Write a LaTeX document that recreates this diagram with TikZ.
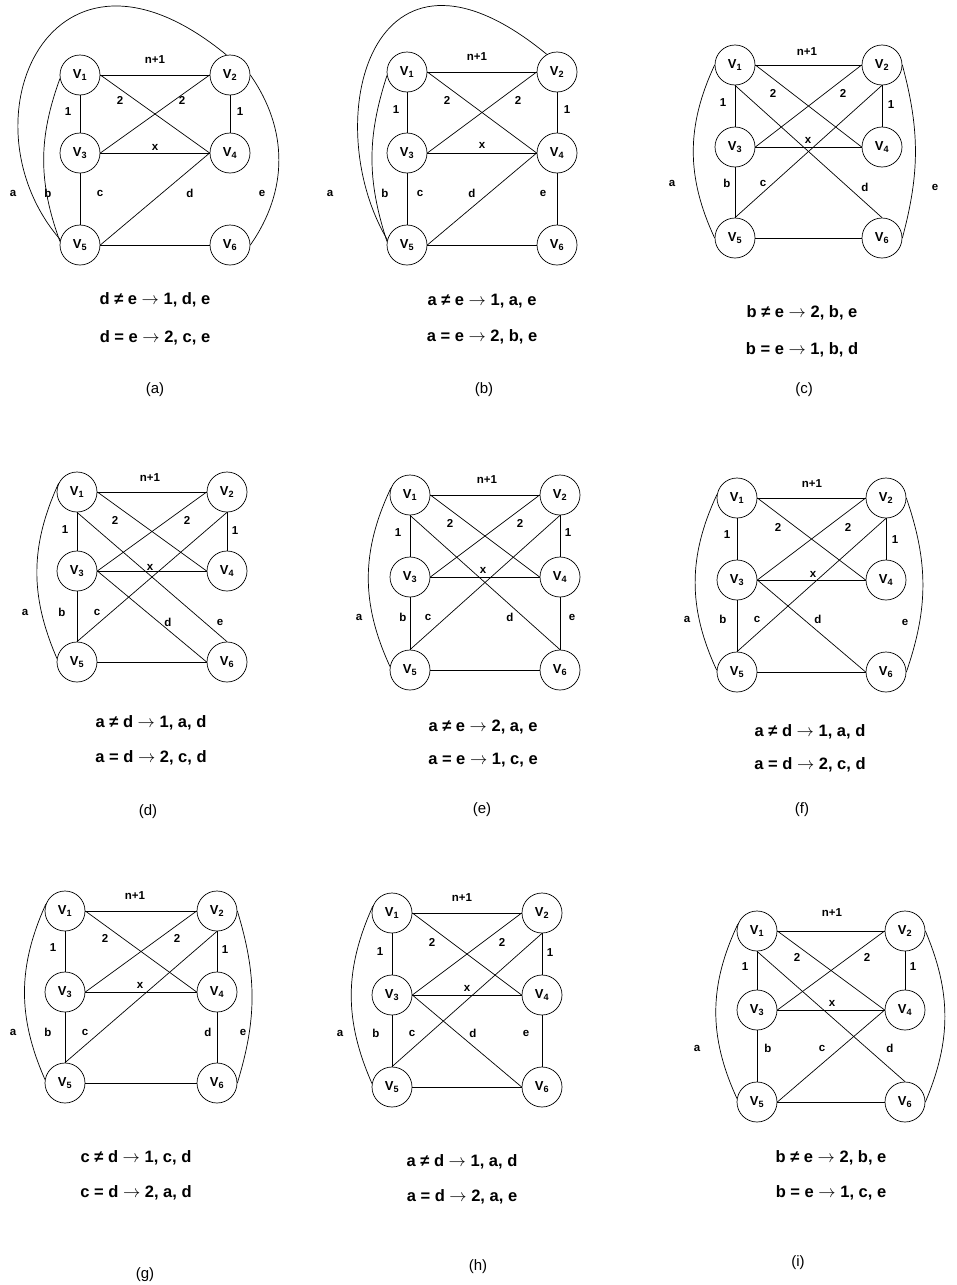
\documentclass[tikz,border=0pt]{standalone}
\usepackage{fontspec}
\setmainfont{Liberation Sans}
\usepackage{tikz}

% six vertices of one panel: prefix, left x, right x, top/middle/bottom y
\newcommand{\sixvert}[6]{%
\node[vert] (#1-1) at (#2,#4) {V\textsubscript{1}};
\node[vert] (#1-2) at (#3,#4) {V\textsubscript{2}};
\node[vert] (#1-3) at (#2,#5) {V\textsubscript{3}};
\node[vert] (#1-4) at (#3,#5) {V\textsubscript{4}};
\node[vert] (#1-5) at (#2,#6) {V\textsubscript{5}};
\node[vert] (#1-6) at (#3,#6) {V\textsubscript{6}};
}
\newcommand{\tto}{$\rightarrow$}

\begin{document}
\begin{tikzpicture}[x=1pt, y=-1pt, line width=0.7pt,
  vert/.style={circle, draw, minimum size=40pt, inner sep=0pt, font=\bfseries\fontsize{13}{13}\selectfont},
  lbl/.style={font=\bfseries\fontsize{11.5}{11.5}\selectfont, inner sep=0pt},
  cond/.style={font=\bfseries\fontsize{16.5}{16.5}\selectfont, inner sep=0pt},
  captxt/.style={font=\fontsize{15}{15}\selectfont, inner sep=0pt}]
\useasboundingbox (0,0) rectangle (956,1285);

% (a)
\sixvert{a}{80}{230}{75}{153}{245}
\draw (a-1.east) -- (a-2.west);
\draw (a-1.south) -- (a-3.north);
\draw (a-2.south) -- (a-4.north);
\draw (a-1.east) -- (a-4.west);
\draw (a-3.east) -- (a-2.west);
\draw (a-3.east) -- (a-4.west);
\draw (a-3.south) -- (a-5.north);
\draw (a-5.east) -- (a-4.west);
\draw (a-5.east) -- (a-6.west);
\draw (a-2.east) to[bend left=35] (a-6.east);
\draw (a-5.170) to[bend left=20] (a-1.190);
\draw (a-5.165) .. controls +(-102,-118) and +(-176,-145) .. (a-2.100);
\node[lbl] (a-n) at (155,60) {n+1};
\node[lbl] (a-w14) at (120,100) {2};
\node[lbl] (a-w23) at (182,100) {2};
\node[lbl] (a-w13) at (68,112) {1};
\node[lbl] (a-w24) at (240,112) {1};
\node[lbl] (a-x) at (155,147) {x};
\node[lbl] (a-la) at (13,193) {a};
\node[lbl] (a-lb) at (48,193) {b};
\node[lbl] (a-lc) at (100,193) {c};
\node[lbl] (a-ld) at (190,193) {d};
\node[lbl] (a-le) at (262,193) {e};
\node[cond] (a-neq) at (155,300) {d ≠ e \tto\ 1, d, e};
\node[cond] (a-eq) at (155,338) {d = e \tto\ 2, c, e};
\node[captxt] (a-cap) at (155,390) {(a)};

% (b)
\sixvert{b}{407}{557}{72}{153}{245}
\draw (b-1.east) -- (b-2.west);
\draw (b-1.south) -- (b-3.north);
\draw (b-2.south) -- (b-4.north);
\draw (b-1.east) -- (b-4.west);
\draw (b-3.east) -- (b-2.west);
\draw (b-3.east) -- (b-4.west);
\draw (b-3.south) -- (b-5.north);
\draw (b-5.east) -- (b-4.west);
\draw (b-4.south) -- (b-6.north);
\draw (b-5.east) -- (b-6.west);
\draw (b-5.170) to[bend left=18] (b-1.190);
\draw (b-5.165) .. controls +(-70,-118) and +(-176,-145) .. (b-2.120);
\node[lbl] (b-n) at (477,57) {n+1};
\node[lbl] (b-w14) at (447,100) {2};
\node[lbl] (b-w23) at (518,100) {2};
\node[lbl] (b-w13) at (396,110) {1};
\node[lbl] (b-w24) at (567,110) {1};
\node[lbl] (b-x) at (482,145) {x};
\node[lbl] (b-la) at (330,193) {a};
\node[lbl] (b-lb) at (385,193) {b};
\node[lbl] (b-lc) at (420,193) {c};
\node[lbl] (b-ld) at (472,193) {d};
\node[lbl] (b-le) at (543,193) {e};
\node[cond] (b-neq) at (482,301) {a ≠ e \tto\ 1, a, e};
\node[cond] (b-eq) at (482,337) {a = e \tto\ 2, b, e};
\node[captxt] (b-cap) at (484,390) {(b)};

% (c)
\sixvert{c}{735}{882}{65}{147}{238}
\draw (c-1.east) -- (c-2.west);
\draw (c-1.south) -- (c-3.north);
\draw (c-2.south) -- (c-4.north);
\draw (c-1.east) -- (c-4.west);
\draw (c-3.east) -- (c-2.west);
\draw (c-1.south) -- (c-6.north);
\draw (c-3.east) -- (c-4.west);
\draw (c-5.north) -- (c-2.south);
\draw (c-3.south) -- (c-5.north);
\draw (c-5.east) -- (c-6.west);
\draw (c-1.west) to[bend right=25] (c-5.west);
\draw (c-2.east) to[bend left=15] (c-6.east);
\node[lbl] (c-n) at (807,52) {n+1};
\node[lbl] (c-w14) at (773,93) {2};
\node[lbl] (c-w23) at (843,93) {2};
\node[lbl] (c-w13) at (723,103) {1};
\node[lbl] (c-w24) at (891,105) {1};
\node[lbl] (c-x) at (808,140) {x};
\node[lbl] (c-la) at (672,183) {a};
\node[lbl] (c-lb) at (727,183) {b};
\node[lbl] (c-lc) at (763,183) {c};
\node[lbl] (c-ld) at (865,187) {d};
\node[lbl] (c-le) at (935,187) {e};
\node[cond] (c-neq) at (802,313) {b ≠ e \tto\ 2, b, e};
\node[cond] (c-eq) at (802,350) {b = e \tto\ 1, b, d};
\node[captxt] (c-cap) at (804,390) {(c)};

% (d)
\sixvert{d}{77}{227}{492}{571}{662}
\draw (d-1.east) -- (d-2.west);
\draw (d-1.south) -- (d-3.north);
\draw (d-2.south) -- (d-4.north);
\draw (d-1.east) -- (d-4.west);
\draw (d-3.east) -- (d-2.west);
\draw (d-1.south) -- (d-6.north);
\draw (d-3.east) -- (d-4.west);
\draw (d-3.east) -- (d-6.west);
\draw (d-5.north) -- (d-2.south);
\draw (d-3.south) -- (d-5.north);
\draw (d-5.east) -- (d-6.west);
\draw (d-1.155) to[bend right=24] (d-5.170);
\node[lbl] (d-n) at (150,478) {n+1};
\node[lbl] (d-w14) at (115,520) {2};
\node[lbl] (d-w23) at (187,520) {2};
\node[lbl] (d-w13) at (65,530) {1};
\node[lbl] (d-w24) at (235,531) {1};
\node[lbl] (d-x) at (150,567) {x};
\node[lbl] (d-la) at (25,612) {a};
\node[lbl] (d-lb) at (62,612) {b};
\node[lbl] (d-lc) at (97,612) {c};
\node[lbl] (d-ld) at (168,622) {d};
\node[lbl] (d-le) at (220,622) {e};
\node[cond] (d-neq) at (151,723) {a ≠ d \tto\ 1, a, d};
\node[cond] (d-eq) at (151,758) {a = d \tto\ 2, c, d};
\node[captxt] (d-cap) at (148,812) {(d)};

% (e)
\sixvert{e}{410}{560}{495}{577}{670}
\draw (e-1.east) -- (e-2.west);
\draw (e-1.south) -- (e-3.north);
\draw (e-2.south) -- (e-4.north);
\draw (e-1.east) -- (e-4.west);
\draw (e-3.east) -- (e-2.west);
\draw (e-1.south) -- (e-6.north);
\draw (e-3.east) -- (e-4.west);
\draw (e-5.north) -- (e-2.south);
\draw (e-3.south) -- (e-5.north);
\draw (e-4.south) -- (e-6.north);
\draw (e-5.east) -- (e-6.west);
\draw (e-1.160) to[bend right=25] (e-5.170);
\node[lbl] (e-n) at (487,480) {n+1};
\node[lbl] (e-w14) at (450,523) {2};
\node[lbl] (e-w23) at (520,523) {2};
\node[lbl] (e-w13) at (398,533) {1};
\node[lbl] (e-w24) at (568,533) {1};
\node[lbl] (e-x) at (483,570) {x};
\node[lbl] (e-la) at (359,617) {a};
\node[lbl] (e-lb) at (403,617) {b};
\node[lbl] (e-lc) at (428,617) {c};
\node[lbl] (e-ld) at (510,617) {d};
\node[lbl] (e-le) at (572,617) {e};
\node[cond] (e-neq) at (483,727) {a ≠ e \tto\ 2, a, e};
\node[cond] (e-eq) at (483,760) {a = e \tto\ 1, c, e};
\node[captxt] (e-cap) at (482,810) {(e)};

% (f)
\sixvert{f}{737}{886}{498}{580}{672}
\draw (f-1.east) -- (f-2.west);
\draw (f-1.south) -- (f-3.north);
\draw (f-2.south) -- (f-4.north);
\draw (f-1.east) -- (f-4.west);
\draw (f-3.east) -- (f-2.west);
\draw (f-3.east) -- (f-4.west);
\draw (f-5.north) -- (f-2.south);
\draw (f-3.east) -- (f-6.west);
\draw (f-3.south) -- (f-5.north);
\draw (f-5.east) -- (f-6.west);
\draw (f-1.170) to[bend right=25] (f-5.175);
\draw (f-2.east) to[bend left=19] (f-6.east);
\node[lbl] (f-n) at (812,484) {n+1};
\node[lbl] (f-w14) at (778,527) {2};
\node[lbl] (f-w23) at (848,527) {2};
\node[lbl] (f-w13) at (727,535) {1};
\node[lbl] (f-w24) at (895,540) {1};
\node[lbl] (f-x) at (813,574) {x};
\node[lbl] (f-la) at (687,619) {a};
\node[lbl] (f-lb) at (723,619) {b};
\node[lbl] (f-lc) at (757,619) {c};
\node[lbl] (f-ld) at (818,619) {d};
\node[lbl] (f-le) at (905,622) {e};
\node[cond] (f-neq) at (810,732) {a ≠ d \tto\ 1, a, d};
\node[cond] (f-eq) at (810,765) {a = d \tto\ 2, c, d};
\node[captxt] (f-cap) at (802,810) {(f)};

% (g)
\sixvert{g}{65}{217}{911}{992}{1083}
\draw (g-1.east) -- (g-2.west);
\draw (g-1.south) -- (g-3.north);
\draw (g-2.south) -- (g-4.north);
\draw (g-1.east) -- (g-4.west);
\draw (g-3.east) -- (g-2.west);
\draw (g-3.east) -- (g-4.west);
\draw (g-5.north) -- (g-2.south);
\draw (g-3.south) -- (g-5.north);
\draw (g-4.south) -- (g-6.north);
\draw (g-5.east) -- (g-6.west);
\draw (g-1.160) to[bend right=24] (g-5.170);
\draw (g-2.east) to[bend left=17] (g-6.east);
\node[lbl] (g-n) at (135,896) {n+1};
\node[lbl] (g-w14) at (105,938) {2};
\node[lbl] (g-w23) at (177,938) {2};
\node[lbl] (g-w13) at (53,948) {1};
\node[lbl] (g-w24) at (225,950) {1};
\node[lbl] (g-x) at (140,985) {x};
\node[lbl] (g-la) at (13,1032) {a};
\node[lbl] (g-lb) at (48,1032) {b};
\node[lbl] (g-lc) at (85,1032) {c};
\node[lbl] (g-ld) at (208,1032) {d};
\node[lbl] (g-le) at (243,1032) {e};
\node[cond] (g-neq) at (136,1158) {c ≠ d \tto\ 1, c, d};
\node[cond] (g-eq) at (136,1193) {c = d \tto\ 2, a, d};
\node[captxt] (g-cap) at (145,1275) {(g)};

% (h)
\sixvert{h}{392}{542}{913}{995}{1087}
\draw (h-1.east) -- (h-2.west);
\draw (h-1.south) -- (h-3.north);
\draw (h-2.south) -- (h-4.north);
\draw (h-1.east) -- (h-4.west);
\draw (h-3.east) -- (h-2.west);
\draw (h-3.east) -- (h-4.west);
\draw (h-5.north) -- (h-2.south);
\draw (h-3.east) -- (h-6.west);
\draw (h-3.south) -- (h-5.north);
\draw (h-4.south) -- (h-6.north);
\draw (h-5.east) -- (h-6.west);
\draw (h-1.160) to[bend right=24] (h-5.170);
\node[lbl] (h-n) at (462,898) {n+1};
\node[lbl] (h-w14) at (432,942) {2};
\node[lbl] (h-w23) at (502,942) {2};
\node[lbl] (h-w13) at (380,952) {1};
\node[lbl] (h-w24) at (550,953) {1};
\node[lbl] (h-x) at (467,988) {x};
\node[lbl] (h-la) at (340,1033) {a};
\node[lbl] (h-lb) at (376,1033) {b};
\node[lbl] (h-lc) at (412,1033) {c};
\node[lbl] (h-ld) at (473,1033) {d};
\node[lbl] (h-le) at (526,1033) {e};
\node[cond] (h-neq) at (462,1162) {a ≠ d \tto\ 1, a, d};
\node[cond] (h-eq) at (462,1197) {a = d \tto\ 2, a, e};
\node[captxt] (h-cap) at (478,1267) {(h)};

% (i)
\sixvert{i}{757}{905}{931}{1010}{1102}
\draw (i-1.east) -- (i-2.west);
\draw (i-1.south) -- (i-3.north);
\draw (i-2.south) -- (i-4.north);
\draw (i-1.east) -- (i-4.west);
\draw (i-3.east) -- (i-2.west);
\draw (i-3.east) -- (i-4.west);
\draw (i-1.south) -- (i-6.north);
\draw (i-5.east) -- (i-4.west);
\draw (i-3.south) -- (i-5.north);
\draw (i-5.east) -- (i-6.west);
\draw (i-1.160) to[bend right=25] (i-5.170);
\draw (i-2.east) to[bend left=23] (i-6.east);
\node[lbl] (i-n) at (832,913) {n+1};
\node[lbl] (i-w14) at (797,957) {2};
\node[lbl] (i-w23) at (867,957) {2};
\node[lbl] (i-w13) at (745,967) {1};
\node[lbl] (i-w24) at (913,967) {1};
\node[lbl] (i-x) at (832,1003) {x};
\node[lbl] (i-la) at (697,1048) {a};
\node[lbl] (i-lb) at (768,1048) {b};
\node[lbl] (i-lc) at (822,1048) {c};
\node[lbl] (i-ld) at (890,1048) {d};
\node[cond] (i-neq) at (831,1158) {b ≠ e \tto\ 2, b, e};
\node[cond] (i-eq) at (831,1193) {b = e \tto\ 1, c, e};
\node[captxt] (i-cap) at (798,1263) {(i)};
\end{tikzpicture}
\end{document}
